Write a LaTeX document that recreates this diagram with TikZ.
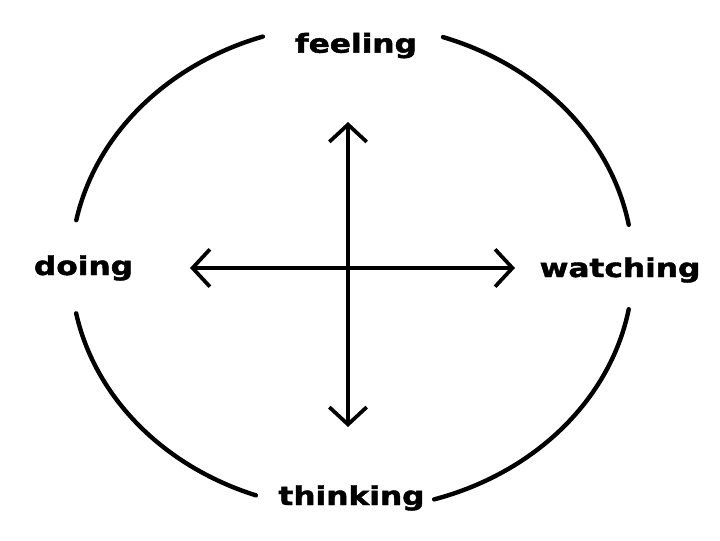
\documentclass[tikz,border=0pt]{standalone}
\usepackage{fontspec}
\setmainfont{DejaVu Sans}
\newfontfamily\heavyfont[FakeBold=1.6]{DejaVu Sans Bold}
\usetikzlibrary{arrows.meta}
\begin{document}
\begin{tikzpicture}[x=0.75pt,y=0.75pt,
  ring/.style={line width=3.3pt,black,line cap=round},
  axisline/.style={line width=2.6pt,black},
  barb/.style={-{Straight Barb[length=13pt,width=28pt,line width=2.8pt]}},
  lbl/.style={font=\fontsize{19.5pt}{22pt}\heavyfont,xscale=1.2,anchor=base,inner sep=0pt}]
\useasboundingbox (0,0) rectangle (720,540);
\coordinate (c) at (352,273);
\def\rx{281}\def\ry{243}
\draw[ring] ([shift={(168.9:\rx\space and \ry)}]c) arc[start angle=168.9,end angle=108.5,x radius=\rx,y radius=\ry];
\draw[ring] ([shift={(71.1:\rx\space and \ry)}]c) arc[start angle=71.1,end angle=10,x radius=\rx,y radius=\ry];
\draw[ring] ([shift={(-10:\rx\space and \ry)}]c) arc[start angle=-10,end angle=-73,x radius=\rx,y radius=\ry];
\draw[ring] ([shift={(-110:\rx\space and \ry)}]c) arc[start angle=-110,end angle=-169,x radius=\rx,y radius=\ry];
\node[lbl] (feeling) at (356,487.3) {feeling};
\node[lbl] (watching) at (620,263) {watching};
\node[lbl] (doing) at (83.5,265) {doing};
\node[lbl] (thinking) at (351.5,35) {thinking};
\coordinate (ctr) at (348,272);
\coordinate (up) at (348,418);
\coordinate (dn) at (348,113);
\coordinate (lt) at (190,272);
\coordinate (rt) at (515,272);
\draw[axisline,line width=3.6pt,barb] (ctr) -- (up);
\draw[axisline,line width=3.6pt,barb] (ctr) -- (dn);
\draw[axisline,barb] (ctr) -- (lt);
\draw[axisline,barb] (ctr) -- (rt);
\end{tikzpicture}
\end{document}
